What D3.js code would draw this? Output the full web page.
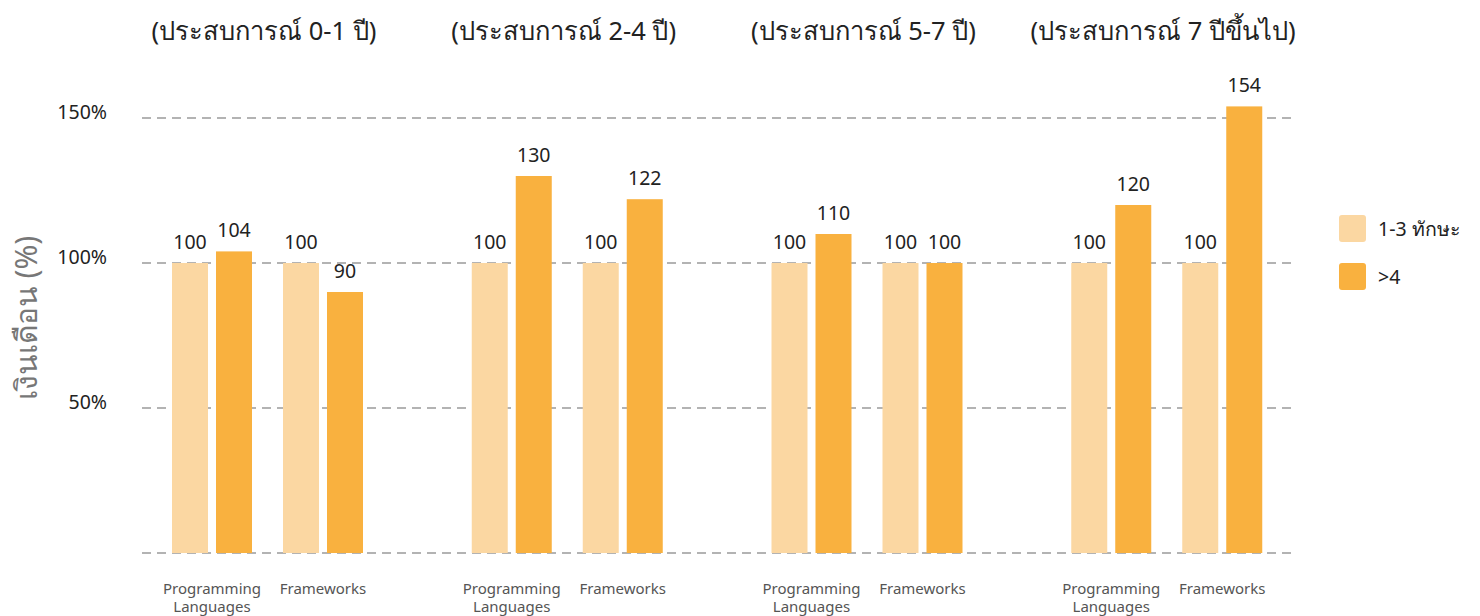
<!DOCTYPE html>
<html>
<head>
<meta charset="utf-8">
<script src="https://cdn.jsdelivr.net/npm/d3@7"></script>
<style>
  body { margin: 0; background: #fff; }
  svg { font-family: "Noto Sans", "DejaVu Sans", sans-serif; display: block; }
</style>
</head>
<body>
<div id="chart"></div>
<script>
const width = 1480, height = 616;

const groups = ["(ประสบการณ์ 0-1 ปี)", "(ประสบการณ์ 2-4 ปี)", "(ประสบการณ์ 5-7 ปี)", "(ประสบการณ์ 7 ปีขึ้นไป)"];
const subgroups = ["Programming Languages", "Frameworks"];
const series = ["1-3 ทักษะ", ">4"];
// values per group: [PL, FW] for each series
const lowSkill = [[100, 100], [100, 100], [100, 100], [100, 100]];
const highSkill = [[104, 90], [130, 122], [110, 100], [120, 154]];
const yTicks = [0, 50, 100, 150];
const colors = ["#fbd7a2", "#f9b13f"];

const svg = d3.select("#chart")
  .append("svg")
  .attr("width", width)
  .attr("height", height);

let rows = [];
groups.forEach((g, gi) => {
  subgroups.forEach((s, si) => {
    rows.push({ group: g, sub: s, series: series[0], value: lowSkill[gi][si] });
    rows.push({ group: g, sub: s, series: series[1], value: highSkill[gi][si] });
  });
});

let x0 = d3.scaleBand().domain(groups).range([118, 1317]);
let x1 = d3.scaleBand().domain(subgroups).range([38.5, 260.5]);
let x2 = d3.scaleBand().domain(series).range([-40, 40]).paddingInner(0.1818);

let y = d3.scaleLinear().domain([0, 150]).range([553, 118]);

// gridlines
svg.append("g")
  .selectAll("line")
  .data(yTicks)
  .join("line")
  .attr("x1", 142)
  .attr("x2", 1291)
  .attr("y1", d => y(d))
  .attr("y2", d => y(d))
  .attr("stroke", "#9a9a9a")
  .attr("stroke-width", 1.3)
  .attr("stroke-dasharray", "9,6");

// y tick labels
svg.append("g")
  .selectAll("text")
  .data(yTicks.filter(d => d > 0))
  .join("text")
  .attr("x", 107)
  .attr("y", d => y(d) - 6)
  .attr("dy", "0.35em")
  .attr("text-anchor", "end")
  .attr("font-size", 19.5)
  .attr("fill", "#222")
  .text(d => d + "%");

svg.append("text")
  .attr("transform", "translate(37,318) rotate(-90)")
  .attr("text-anchor", "middle")
  .attr("font-size", 30)
  .attr("fill", "#777")
  .text("เงินเดือน (%)");

// group titles
svg.append("g")
  .selectAll("text")
  .data(groups)
  .join("text")
  .attr("x", d => x0(d) + x0.bandwidth() / 2 - 4)
  .attr("y", 40)
  .attr("text-anchor", "middle")
  .attr("font-size", 25.5)
  .attr("fill", "#222")
  .text(d => d);

const cx = d => x0(d.group) + x1(d.sub) + x1.bandwidth() / 2;

// bars
svg.append("g")
  .selectAll("rect")
  .data(rows)
  .join("rect")
  .attr("x", d => cx(d) + x2(d.series))
  .attr("width", x2.bandwidth())
  .attr("y", d => y(d.value))
  .attr("height", d => y(0) - y(d.value))
  .attr("fill", d => colors[series.indexOf(d.series)]);

// value labels
svg.append("g")
  .selectAll("text")
  .data(rows)
  .join("text")
  .attr("x", d => cx(d) + x2(d.series) + x2.bandwidth() / 2)
  .attr("y", d => y(d.value) - 14)
  .attr("text-anchor", "middle")
  .attr("font-size", 19.5)
  .attr("fill", "#222")
  .text(d => d.value);

// category labels
groups.forEach(g => {
  subgroups.forEach(s => {
    let words = s === "Programming Languages" ? ["Programming", "Languages"] : [s];
    let t = svg.append("text")
      .attr("x", x0(g) + x1(s) + x1.bandwidth() / 2)
      .attr("y", 594)
      .attr("text-anchor", "middle")
      .attr("font-size", 15)
      .attr("fill", "#555");
    words.forEach((w, i) => {
      t.append("tspan")
        .attr("x", x0(g) + x1(s) + x1.bandwidth() / 2)
        .attr("dy", i === 0 ? 0 : 18)
        .text(w);
    });
  });
});

// legend
let legend = svg.append("g")
  .selectAll("g")
  .data(series)
  .join("g")
  .attr("transform", (d, i) => `translate(1339,${215 + i * 48})`);

legend.append("rect")
  .attr("width", 27)
  .attr("height", 27)
  .attr("rx", 3)
  .attr("fill", (d, i) => colors[i]);

legend.append("text")
  .attr("x", 39)
  .attr("y", 14)
  .attr("dy", "0.35em")
  .attr("font-size", 19.5)
  .attr("fill", "#222")
  .text(d => d);
</script>
</body>
</html>
